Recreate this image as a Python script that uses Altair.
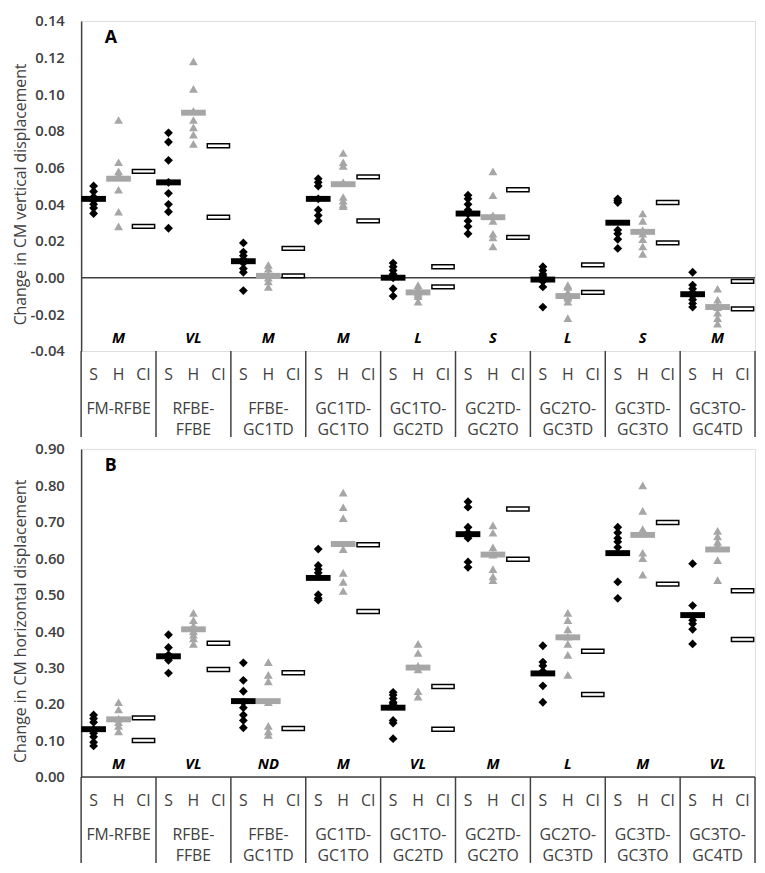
import altair as alt
import pandas as pd

# ---------------- data ----------------
group_labels = ["FM-RFBE", "RFBE-\nFFBE", "FFBE-\nGC1TD", "GC1TD-\nGC1TO", "GC1TO-\nGC2TD",
                "GC2TD-\nGC2TO", "GC2TO-\nGC3TD", "GC3TD-\nGC3TO", "GC3TO-\nGC4TD"]
sub_labels = ["S", "H", "CI"]

effects_A = ["M", "VL", "M", "M", "L", "S", "L", "S", "M"]
effects_B = ["M", "VL", "ND", "M", "VL", "M", "L", "M", "VL"]

ticks_A = [-0.04, -0.02, 0.00, 0.02, 0.04, 0.06, 0.08, 0.10, 0.12, 0.14]
ticks_B = [0.0, 0.1, 0.2, 0.3, 0.4, 0.5, 0.6, 0.7, 0.8, 0.9]

# Panel A: change in CM vertical displacement
s_pts_A = [
    [0.050, 0.047, 0.044, 0.042, 0.040, 0.038, 0.035],
    [0.079, 0.074, 0.064, 0.052, 0.046, 0.040, 0.036, 0.027],
    [0.019, 0.014, 0.012, 0.010, 0.008, 0.005, 0.003, -0.007],
    [0.054, 0.052, 0.050, 0.043, 0.037, 0.034, 0.031],
    [0.008, 0.006, 0.004, 0.002, 0.000, -0.006, -0.010],
    [0.045, 0.043, 0.040, 0.037, 0.035, 0.031, 0.028, 0.024],
    [0.006, 0.004, 0.002, 0.001, -0.002, -0.005, -0.016],
    [0.043, 0.042, 0.041, 0.026, 0.024, 0.021, 0.016],
    [0.003, -0.004, -0.006, -0.008, -0.010, -0.012, -0.014, -0.016],
]
h_pts_A = [
    [0.086, 0.063, 0.058, 0.056, 0.048, 0.036, 0.028],
    [0.118, 0.103, 0.091, 0.086, 0.082, 0.078, 0.073],
    [0.007, 0.005, 0.002, 0.000, -0.002, -0.005],
    [0.068, 0.063, 0.061, 0.052, 0.044, 0.042, 0.040, 0.039],
    [-0.004, -0.006, -0.008, -0.009, -0.010, -0.013],
    [0.058, 0.045, 0.034, 0.031, 0.024, 0.022, 0.017],
    [-0.004, -0.005, -0.008, -0.010, -0.011, -0.013, -0.022],
    [0.035, 0.031, 0.026, 0.024, 0.021, 0.017, 0.013],
    [-0.006, -0.012, -0.015, -0.016, -0.019, -0.022, -0.025],
]
s_mean_A = [0.043, 0.052, 0.009, 0.043, 0.000, 0.035, -0.001, 0.030, -0.009]
h_mean_A = [0.054, 0.090, 0.001, 0.051, -0.008, 0.033, -0.010, 0.025, -0.016]
ci_hi_A = [0.058, 0.072, 0.016, 0.055, 0.006, 0.048, 0.007, 0.041, -0.002]
ci_lo_A = [0.028, 0.033, 0.001, 0.031, -0.005, 0.022, -0.008, 0.019, -0.017]

# Panel B: change in CM horizontal displacement
s_pts_B = [
    [0.170, 0.160, 0.150, 0.130, 0.120, 0.110, 0.095, 0.085],
    [0.390, 0.355, 0.335, 0.325, 0.330, 0.320, 0.285],
    [0.313, 0.265, 0.235, 0.205, 0.190, 0.170, 0.155, 0.135],
    [0.625, 0.580, 0.570, 0.560, 0.550, 0.500, 0.490, 0.485],
    [0.232, 0.225, 0.215, 0.205, 0.200, 0.155, 0.148, 0.105],
    [0.755, 0.740, 0.685, 0.670, 0.660, 0.655, 0.590, 0.575],
    [0.360, 0.315, 0.305, 0.290, 0.250, 0.205],
    [0.685, 0.670, 0.655, 0.645, 0.630, 0.535, 0.490],
    [0.585, 0.470, 0.440, 0.430, 0.420, 0.405, 0.365],
]
h_pts_B = [
    [0.205, 0.185, 0.160, 0.150, 0.140, 0.125],
    [0.450, 0.430, 0.415, 0.400, 0.390, 0.380, 0.365],
    [0.315, 0.280, 0.262, 0.205, 0.140, 0.125, 0.115],
    [0.780, 0.740, 0.710, 0.625, 0.560, 0.535, 0.510],
    [0.365, 0.340, 0.305, 0.295, 0.235, 0.220],
    [0.690, 0.670, 0.630, 0.610, 0.570, 0.550, 0.540],
    [0.450, 0.430, 0.405, 0.385, 0.365, 0.335, 0.280],
    [0.800, 0.730, 0.680, 0.615, 0.600, 0.555],
    [0.675, 0.660, 0.645, 0.635, 0.595, 0.540],
]
s_mean_B = [0.131, 0.331, 0.208, 0.546, 0.190, 0.666, 0.284, 0.614, 0.444]
h_mean_B = [0.158, 0.405, 0.208, 0.639, 0.300, 0.610, 0.383, 0.664, 0.624]
ci_hi_B = [0.162, 0.367, 0.286, 0.637, 0.248, 0.735, 0.345, 0.698, 0.511]
ci_lo_B = [0.100, 0.295, 0.133, 0.454, 0.131, 0.597, 0.226, 0.529, 0.377]

# ---------------- styling ----------------
FONT = "Open Sans"
W = 682
GRAY = "#a6a6a6"
DARK = "#404040"
N = len(group_labels)


def build_panel(s_pts, h_pts, s_mean, h_mean, ci_hi, ci_lo, effects, ticks,
                ytitle, letter, height):
    xs = alt.Scale(domain=[0, 3 * N])
    ys = alt.Scale(domain=[ticks[0], ticks[-1]], nice=False, zero=False)
    yaxis = alt.Axis(
        values=ticks,
        labelExpr="datum.value < 0 ? '-' + format(-datum.value, '.2f') : format(datum.value, '.2f')",
        title=ytitle, ticks=False, grid=False, labelPadding=17,
        labelFont=FONT, labelFontSize=15, labelColor=DARK, labelFontWeight=600,
        domainColor=DARK, domainWidth=1.5,
        titleFont=FONT, titleFontSize=16, titleFontWeight="normal", titleColor=DARK,
        titleX=-53, titleY=height / 2 + 8,
    )
    X = alt.X("pos:Q", scale=xs, axis=None)
    Y = alt.Y("val:Q", scale=ys, axis=yaxis)

    s_rows = [{"pos": 3 * g + 0.5, "val": v} for g, vals in enumerate(s_pts) for v in vals]
    h_rows = [{"pos": 3 * g + 1.5, "val": v} for g, vals in enumerate(h_pts) for v in vals]
    sm_rows = [{"pos": 3 * g + 0.5, "val": v} for g, v in enumerate(s_mean)]
    hm_rows = [{"pos": 3 * g + 1.5, "val": v} for g, v in enumerate(h_mean)]
    ci_rows = [{"pos": 3 * g + 2.5, "val": v} for g in range(N) for v in (ci_hi[g], ci_lo[g])]
    sep_rows = [{"pos": 3 * g} for g in range(N + 1)]
    sub_rows = [{"pos": 3 * g + k + 0.5, "label": sub_labels[k]} for g in range(N) for k in range(3)]
    grp_rows = [{"pos": 3 * g + 1.5, "label": group_labels[g]} for g in range(N)]
    eff_rows = [{"pos": 3 * g + 1.5, "label": effects[g]} for g in range(N)]

    zero = alt.Chart(pd.DataFrame({"val": [0.0]})).mark_rule(
        color=DARK, strokeWidth=1.5).encode(y=Y, x=alt.value(0), x2=alt.value(W))

    s_pts_layer = alt.Chart(pd.DataFrame(s_rows)).mark_point(
        shape="diamond", filled=True, color="black", size=80, opacity=1, strokeWidth=0
    ).encode(x=X, y=Y)
    h_pts_layer = alt.Chart(pd.DataFrame(h_rows)).mark_point(
        shape="triangle-up", filled=True, color=GRAY, size=80, opacity=1, strokeWidth=0
    ).encode(x=X, y=Y)
    s_mean_layer = alt.Chart(pd.DataFrame(sm_rows)).mark_tick(
        orient="horizontal", color="black", size=25, thickness=6, opacity=1
    ).encode(x=X, y=Y)
    h_mean_layer = alt.Chart(pd.DataFrame(hm_rows)).mark_tick(
        orient="horizontal", color=GRAY, size=25, thickness=6, opacity=1
    ).encode(x=X, y=Y)
    ci_layer = alt.Chart(pd.DataFrame(ci_rows)).mark_tick(
        orient="horizontal", color="white", fill="white", stroke="black", strokeWidth=1.5,
        size=22.5, thickness=4, opacity=1, filled=True
    ).encode(x=X, y=Y)

    sep_layer = alt.Chart(pd.DataFrame(sep_rows)).mark_rule(
        color=DARK, strokeWidth=1.5
    ).encode(x=X, y=alt.value(height), y2=alt.value(height + 87))

    sub_layer = alt.Chart(pd.DataFrame(sub_rows)).mark_text(
        font=FONT, fontSize=16, color=DARK, baseline="middle", align="center"
    ).encode(x=X, y=alt.value(height + 24), text="label:N")
    grp_layer = alt.Chart(pd.DataFrame(grp_rows)).mark_text(
        font=FONT, fontSize=16, color=DARK, baseline="top", align="center",
        lineBreak="\n", lineHeight=21
    ).encode(x=X, y=alt.value(height + 51), text="label:N")
    eff_layer = alt.Chart(pd.DataFrame(eff_rows)).mark_text(
        font=FONT, fontSize=15, color="black", fontStyle="italic", fontWeight="bold",
        baseline="middle", align="center"
    ).encode(x=X, y=alt.value(height - 13), text="label:N")
    letter_layer = alt.Chart(pd.DataFrame({"label": [letter]})).mark_text(
        font=FONT, fontSize=18, color="black", fontWeight="bold",
        baseline="middle", align="center"
    ).encode(x=alt.value(30), y=alt.value(17), text="label:N")

    return alt.layer(
        zero, ci_layer, s_mean_layer, h_mean_layer, s_pts_layer, h_pts_layer,
        sep_layer, sub_layer, grp_layer, eff_layer, letter_layer
    ).properties(width=W, height=height)


panel_A = build_panel(s_pts_A, h_pts_A, s_mean_A, h_mean_A, ci_hi_A, ci_lo_A, effects_A,
                      ticks_A, "Change in CM vertical displacement", "A", 334)
panel_B = build_panel(s_pts_B, h_pts_B, s_mean_B, h_mean_B, ci_hi_B, ci_lo_B, effects_B,
                      ticks_B, "Change in CM horizontal displacement", "B", 332)

chart = alt.vconcat(panel_A, panel_B, spacing=99, bounds="flush").properties(
    padding={"left": 4, "top": 0, "right": 0, "bottom": 0}
).configure_view(stroke=None).configure(background="white")

chart.save("out.html", embed_options={"renderer": "svg", "actions": False})
